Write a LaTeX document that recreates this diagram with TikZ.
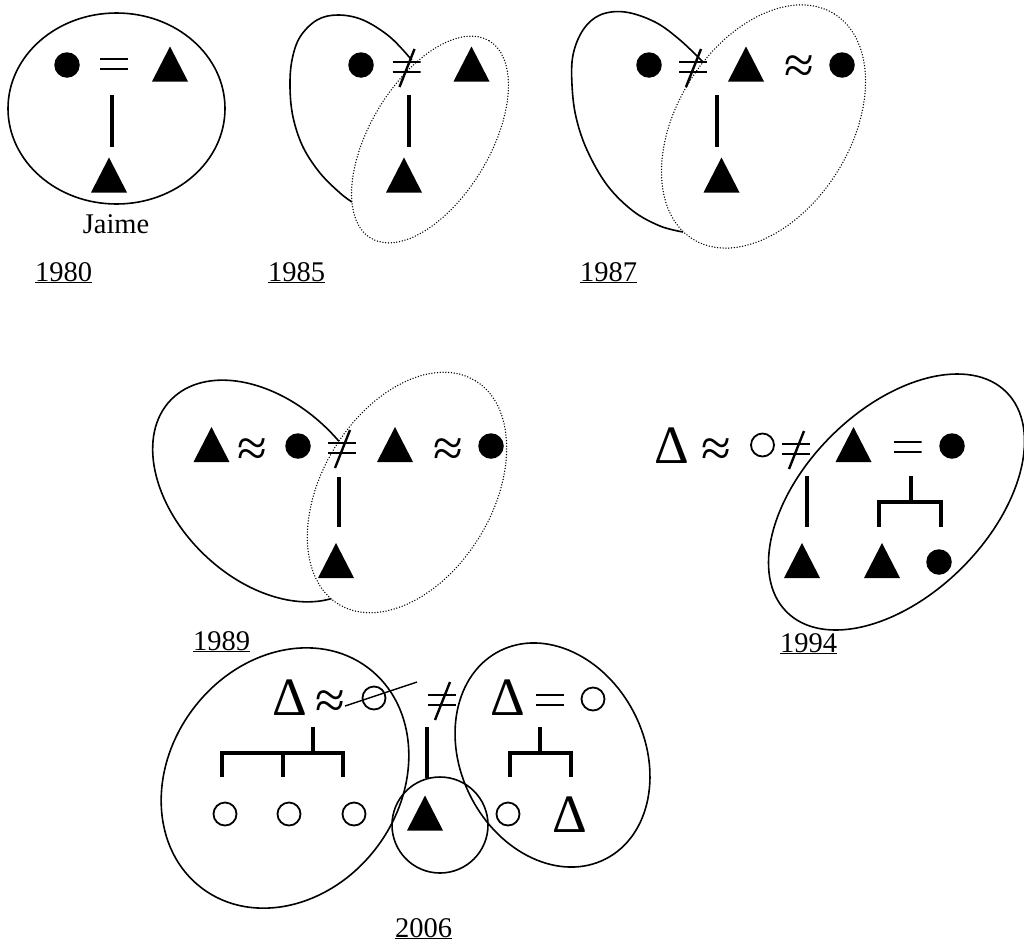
\documentclass[tikz,border=0pt]{standalone}
\usepackage{fontspec}
\setmainfont{Liberation Serif}
\begin{document}
\begin{tikzpicture}[x=1pt,y=-1pt,
  kin/.style={line width=3.6pt, line join=miter},
  oval/.style={line width=1.6pt},
  dotoval/.style={line width=1.5pt, line cap=round, dash pattern=on 0pt off 2.8pt, fill=white},
  dot/.style={circle, fill=black, inner sep=0pt, minimum size=25.5pt},
  ring/.style={circle, draw=black, line width=1.8pt, inner sep=0pt, minimum size=23pt},
  tri/.style={rectangle, inner sep=0pt, minimum width=36pt, minimum height=35pt,
    path picture={\fill[black] (path picture bounding box.south west) -- (path picture bounding box.south east) -- (path picture bounding box.north) -- cycle;}},
  eqsign/.style={rectangle, inner sep=0pt, minimum width=28pt, minimum height=16pt,
    path picture={\draw[line width=2pt] ([yshift=5pt]path picture bounding box.west) -- ([yshift=5pt]path picture bounding box.east);
                  \draw[line width=2pt] ([yshift=-5pt]path picture bounding box.west) -- ([yshift=-5pt]path picture bounding box.east);}},
  neqsign/.style={rectangle, inner sep=0pt, minimum width=28pt, minimum height=44pt,
    path picture={\draw[line width=2pt] ([yshift=5pt]path picture bounding box.west) -- ([yshift=5pt]path picture bounding box.east);
                  \draw[line width=2pt] ([yshift=-5pt]path picture bounding box.west) -- ([yshift=-5pt]path picture bounding box.east);
                  \draw[line width=2.4pt] ([shift={(-7pt,-20pt)}]path picture bounding box.center) -- ([shift={(8pt,18pt)}]path picture bounding box.center);}},
  sym/.style={inner sep=0pt, font=\fontsize{54}{54}\selectfont},
  lbl/.style={inner sep=0pt, anchor=base, font=\fontsize{28.5}{30}\selectfont},
]
\fill[white] (0,0) rectangle (1024,945);
\useasboundingbox (0,0) rectangle (1024,945);

% ---------------- 1980
\draw[oval] (116.5,108.5) ellipse [x radius=108.5, y radius=95.5];
\node[dot] (a1) at (67,65) {};
\node[eqsign] (a2) at (114,64) {};
\node[tri] (a3) at (170,64) {};
\node[tri] (a4) at (109,175) {};
\coordinate (a5) at (112,95); \coordinate (a6) at (112,147);
\draw[kin] (a5) -- (a6);
\node[lbl] (jaime) at (116,233) {Jaime};
\node[lbl] (y1980) at (63.5,281) {\underline{1980}};

% ---------------- 1985
\draw[oval] plot[smooth, tension=0.6] coordinates {(411.7,60) (390,37) (363,20) (338,15) (317,20) (300,37) (292,60) (290,87) (293,117) (303,147) (320,173) (340,193) (352,202)};
\draw[dotoval, rotate around={59:(430,139.5)}] (430,139.5) ellipse [x radius=115, y radius=60];
\node[dot] (b1) at (361,65) {};
\node[neqsign] (b2) at (406.5,67) {};
\node[tri] (b3) at (471.5,64) {};
\node[tri] (b4) at (404,175) {};
\coordinate (b5) at (409,95); \coordinate (b6) at (409,147);
\draw[kin] (b5) -- (b6);
\node[lbl] (y1985) at (296.5,281) {\underline{1985}};

% ---------------- 1987
\draw[oval] plot[smooth, tension=0.6] coordinates {(703,62) (680,40) (655,22) (625,12) (600,15) (583,30) (573,55) (572,85) (576,117) (587,150) (607,185) (633,211) (660,226) (683,232)};
\draw[dotoval, rotate around={57.7:(763.5,126.5)}] (763.5,126.5) ellipse [x radius=133, y radius=86.6];
\node[dot] (c1) at (649,65) {};
\node[neqsign] (c2) at (693,67) {};
\node[tri] (c3) at (746,64) {};
\node[sym] (c4) at (799,70) {≈};
\node[dot] (c5) at (842,65) {};
\node[tri] (c6) at (721.5,175) {};
\coordinate (c7) at (717,95); \coordinate (c8) at (717,147);
\draw[kin] (c7) -- (c8);
\node[lbl] (y1987) at (608.5,281) {\underline{1987}};

% ---------------- 1989
\draw[oval, rotate around={-44:(265,491)}] (265,491) ellipse [x radius=131, y radius=88];
\draw[dotoval, rotate around={58.5:(407,492.5)}] (407,492.5) ellipse [x radius=131, y radius=85];
\node[tri] (d1) at (211.5,444.5) {};
\node[sym] (d2) at (252.5,453) {≈};
\node[dot] (d3) at (298,446) {};
\node[neqsign] (d4) at (342,448) {};
\node[tri] (d5) at (395,444.5) {};
\node[sym] (d6) at (448.5,453) {≈};
\node[dot] (d7) at (491,446) {};
\node[tri] (d8) at (336,560.5) {};
\coordinate (d9) at (339,477); \coordinate (d10) at (339,527);
\draw[kin] (d9) -- (d10);
\node[lbl] (y1989) at (221.5,650) {\underline{1989}};

% ---------------- 1994
\draw[oval, rotate around={45:(896.5,502)}] (896.5,502) ellipse [x radius=155.4, y radius=92.8];
\node[sym] (e1) at (672,446) {Δ};
\node[sym] (e2) at (716,453) {≈};
\node[ring] (e3) at (762.5,445) {};
\node[neqsign] (e4) at (796,449) {};
\node[tri] (e5) at (853.5,444.5) {};
\node[eqsign] (e6) at (907.5,446.5) {};
\node[dot] (e7) at (952,446) {};
\node[tri] (e8) at (802,560.5) {};
\node[tri] (e9) at (882,560.5) {};
\node[dot] (e10) at (939,562) {};
\coordinate (e11) at (807,476); \coordinate (e12) at (807,527);
\draw[kin] (e11) -- (e12);
\coordinate (e13) at (911,476); \coordinate (e14) at (911,502);
\coordinate (e15) at (879,527); \coordinate (e16) at (941,527);
\draw[kin] (e13) -- (e14);
\draw[kin] (e15) |- (e14) -| (e16);
\node[lbl] (y1994) at (808.5,652) {\underline{1994}};

% ---------------- 2006
\draw[oval, rotate around={53:(285,778)}] (285,778) ellipse [x radius=138, y radius=115];
\draw[oval, rotate around={-63:(552.5,755)}] (552.5,755) ellipse [x radius=116.7, y radius=91.8];
\draw[oval] (440,825) circle [radius=48];
\node[sym] (f1) at (289.5,697.5) {Δ};
\node[sym] (f2) at (330.5,705) {≈};
\node[ring] (f3) at (374,698) {};
\coordinate (f4) at (345,706); \coordinate (f5) at (417,682);
\draw[line width=1.4pt] (f4) -- (f5);
\node[neqsign] (f6) at (442,700) {};
\node[sym] (f7) at (508,697.5) {Δ};
\node[eqsign] (f8) at (550,700) {};
\node[ring] (f9) at (593,699) {};
\coordinate (f10) at (427,727); \coordinate (f11) at (427,778);
\draw[kin] (f10) -- (f11);
% left sibling group
\coordinate (g1) at (313,727); \coordinate (g2) at (313,753);
\coordinate (g3) at (222,777); \coordinate (g4) at (283,777); \coordinate (g5) at (343,777);
\draw[kin] (g1) -- (g2);
\draw[kin] (g3) |- (g2) -| (g5);
\draw[kin] (g4) -- (g4 |- g2);
\node[ring] (f12) at (225,814) {};
\node[ring] (f13) at (289,814) {};
\node[ring] (f14) at (354,814) {};
\node[tri] (f15) at (425,813) {};
% right sibling group
\coordinate (h1) at (540,727); \coordinate (h2) at (540,753);
\coordinate (h3) at (510,777); \coordinate (h4) at (571,777);
\draw[kin] (h1) -- (h2);
\draw[kin] (h3) |- (h2) -| (h4);
\node[ring] (f16) at (508,814) {};
\node[sym] (f17) at (570,814.5) {Δ};
\node[lbl] (y2006) at (423.5,937) {\underline{2006}};
\end{tikzpicture}
\end{document}
